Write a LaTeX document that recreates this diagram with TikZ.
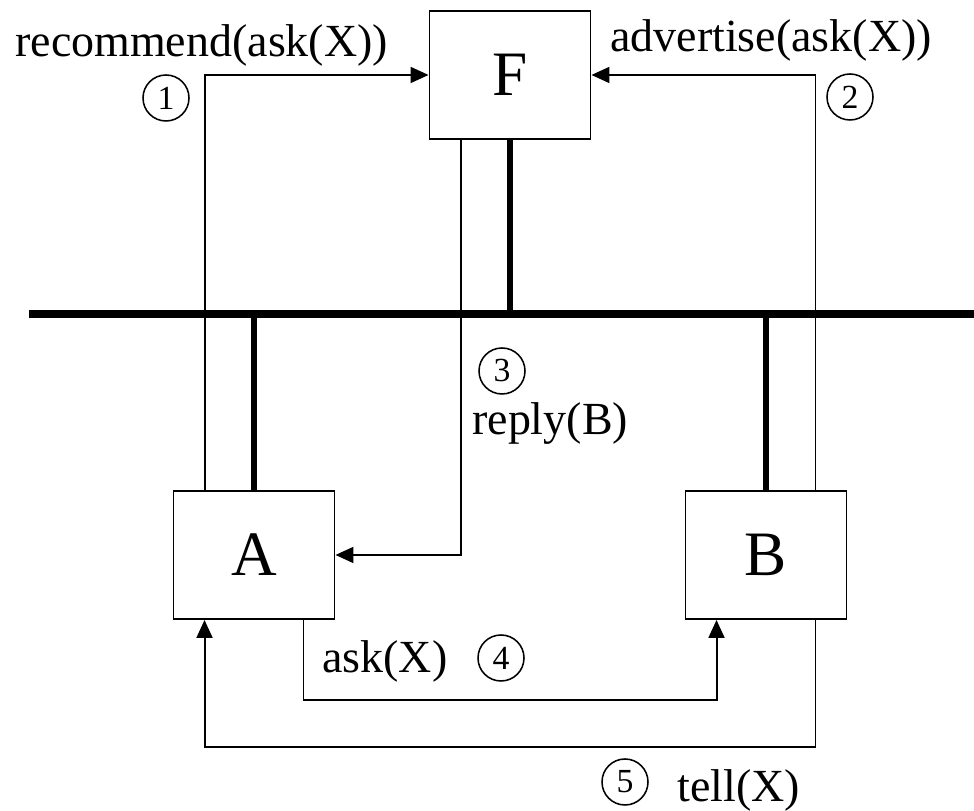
\documentclass[tikz,border=0pt]{standalone}
\usepackage{fontspec}
\setmainfont{Liberation Serif}
\usetikzlibrary{arrows.meta,calc,positioning}
\tikzset{
  agent/.style={draw, line width=1.4pt, minimum width=4.025cm, minimum height=3.2cm, inner sep=0pt, font=\fontsize{45}{50}\selectfont},
  msg/.style={-{Triangle[length=4.5mm,width=4mm]}, line width=1.4pt},
  lan/.style={line width=5.5pt},
  tap/.style={line width=3.6pt},
  num/.style={draw, circle, line width=1.1pt, minimum size=1.15cm, inner sep=0pt, font=\fontsize{24}{28}\selectfont},
  lbl/.style={anchor=base west, inner sep=0pt, font=\fontsize{32.7}{36}\selectfont}
}
\begin{document}
\begin{tikzpicture}
  \useasboundingbox (0,0) rectangle (24.35,20.275);

  \node[agent] (F) at (12.75,18.4) {F};
  \node[agent] (A) at (6.35,6.4) {A};
  \node[agent] (B) at (19.15,6.4) {B};

  % the shared bus and the taps onto it
  \coordinate (lanL) at (0.725,12.425);
  \coordinate (lanR) at (24.35,12.425);
  \draw[lan] (lanL) -- (lanR);
  \draw[tap] (F.south) -- (F.south |- lanL);
  \draw[tap] (A.north) -- (A.north |- lanL);
  \draw[tap] (B.north) -- (B.north |- lanL);

  \draw[msg] ($(A.north west)+(0.8,0)$) |- (F.west);
  \draw[msg] ($(B.north east)+(-0.8,0)$) |- (F.east);
  \draw[msg] ($(F.south west)+(0.8,0)$) |- (A.east);
  \draw[msg] ($(A.south east)+(-0.8,0)$) -- ++(0,-2) -| ($(B.south west)+(0.8,0)$);
  \draw[msg] ($(B.south east)+(-0.8,0)$) -- ++(0,-3.175) -| ($(A.south west)+(0.8,0)$);

  \node[lbl] (recLbl) at (0.375,18.85) {recommend(ask(X))};
  \node[lbl] (advLbl) at (15.25,18.975) {advertise(ask(X))};
  \node[lbl] (repLbl) at (11.8,9.4) {reply(B)};
  \node[lbl] (askLbl) at (8.05,3.45) {ask(X)};
  \node[lbl] (tellLbl) at (16.925,0.225) {tell(X)};

  \node[num] (n1) at (4.15,17.825) {1};
  \node[num] (n2) at (21.25,17.85) {2};
  \node[num] (n3) at (12.55,11.0) {3};
  \node[num] (n4) at (12.525,3.825) {4};
  \node[num] (n5) at (15.625,0.725) {5};
\end{tikzpicture}
\end{document}
